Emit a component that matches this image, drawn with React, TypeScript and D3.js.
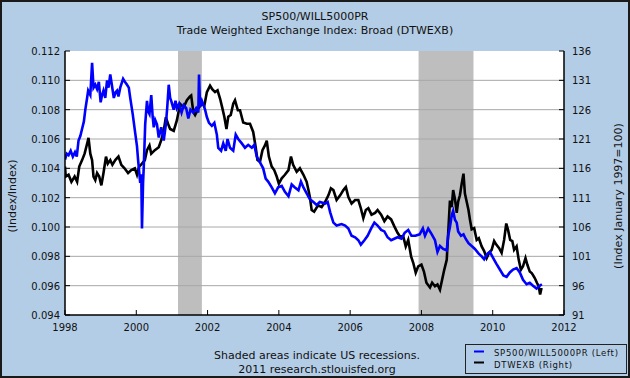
import React from "react";
import * as d3 from "d3";

const title1 = "SP500/WILL5000PR";
const title2 = "Trade Weighted Exchange Index: Broad (DTWEXB)";
const leftLabel = "(Index/Index)";
const rightLabel = "(Index January 1997=100)";
const footer1 = "Shaded areas indicate US recessions.";
const footer2 = "2011 research.stlouisfed.org";
const legendLabels = ["SP500/WILL5000PR (Left)", "DTWEXB (Right)"];

const yearTicks = [1998, 2000, 2002, 2004, 2006, 2008, 2010, 2012];
const leftTicks = [0.094, 0.096, 0.098, 0.1, 0.102, 0.104, 0.106, 0.108, 0.11, 0.112];
const rightTicks = [91, 96, 101, 106, 111, 116, 121, 126, 131, 136];
const recessions: [number, number][] = [
  [2001.17, 2001.84],
  [2007.92, 2009.46],
];

const spDates = [
  1998.0, 1998.05, 1998.1, 1998.16, 1998.22, 1998.28, 1998.33, 1998.38, 1998.43, 1998.48,
  1998.53, 1998.57, 1998.62, 1998.65, 1998.71, 1998.76, 1998.8, 1998.85, 1998.9, 1998.95,
  1999.0, 1999.04, 1999.08, 1999.13, 1999.18, 1999.22, 1999.27, 1999.32, 1999.37, 1999.42,
  1999.46, 1999.5, 1999.55, 1999.63, 1999.68, 1999.74, 1999.79, 1999.83, 1999.9, 1999.97,
  2000.02, 2000.05, 2000.11, 2000.14, 2000.16, 2000.19, 2000.21, 2000.25, 2000.3, 2000.33,
  2000.37, 2000.42, 2000.46, 2000.49, 2000.53, 2000.58, 2000.63, 2000.7, 2000.77, 2000.83,
  2000.87, 2000.91, 2000.95, 2000.98, 2001.05, 2001.1, 2001.14, 2001.2, 2001.27, 2001.33,
  2001.4, 2001.46, 2001.52, 2001.6, 2001.68, 2001.74, 2001.76, 2001.79, 2001.84, 2001.93,
  2001.98, 2002.04, 2002.12, 2002.19, 2002.26, 2002.3, 2002.38, 2002.44, 2002.51, 2002.56,
  2002.63, 2002.72, 2002.79, 2002.86, 2002.96, 2003.05, 2003.14, 2003.24, 2003.31, 2003.38,
  2003.47, 2003.56, 2003.63, 2003.7, 2003.8, 2003.89, 2003.98, 2004.08, 2004.17, 2004.27,
  2004.36, 2004.45, 2004.55, 2004.62, 2004.69, 2004.78, 2004.87, 2004.97, 2005.06, 2005.15,
  2005.3, 2005.37, 2005.44, 2005.53, 2005.62, 2005.76, 2005.86, 2005.95, 2006.04, 2006.14,
  2006.23, 2006.3, 2006.4, 2006.49, 2006.59, 2006.68, 2006.77, 2006.87, 2006.96, 2007.05,
  2007.15, 2007.24, 2007.33, 2007.44, 2007.53, 2007.63, 2007.72, 2007.83, 2007.95, 2008.04,
  2008.1, 2008.19, 2008.29, 2008.38, 2008.45, 2008.52, 2008.61, 2008.71, 2008.75, 2008.8,
  2008.85, 2008.89, 2008.94, 2008.99, 2009.03, 2009.11, 2009.18, 2009.24, 2009.32, 2009.41,
  2009.5, 2009.6, 2009.69, 2009.76, 2009.86, 2009.92, 2010.01, 2010.1, 2010.2, 2010.3,
  2010.39, 2010.48, 2010.57, 2010.67, 2010.76, 2010.85, 2010.95, 2011.04, 2011.13, 2011.23,
  2011.32, 2011.38,
];
const spValues = [
  0.1046, 0.105, 0.1049, 0.1052, 0.1048, 0.1051, 0.1048, 0.1059, 0.1062, 0.1067,
  0.1072, 0.108, 0.1088, 0.1093, 0.109, 0.1112, 0.1095, 0.1097, 0.1094, 0.1099,
  0.1085, 0.109, 0.1093, 0.1088, 0.11, 0.1095, 0.1104, 0.1096, 0.1088, 0.1092,
  0.1093, 0.1089, 0.1095, 0.1101, 0.1099, 0.1097, 0.1095, 0.1088, 0.1077, 0.1064,
  0.1055, 0.1046, 0.103, 0.1036, 0.0999, 0.103, 0.1041, 0.107, 0.1086, 0.1079,
  0.1077, 0.109, 0.1075, 0.1068, 0.1073, 0.107, 0.1061, 0.1068, 0.1059, 0.107,
  0.1082, 0.1097, 0.1088, 0.1086, 0.108, 0.1086, 0.1081, 0.1084, 0.1078, 0.1083,
  0.1081, 0.1074, 0.108, 0.1078, 0.1081, 0.1078, 0.1104, 0.1082, 0.1086, 0.108,
  0.1075, 0.1071, 0.1069, 0.1071, 0.1063, 0.1054, 0.1052, 0.1057, 0.1052, 0.106,
  0.1054, 0.1052, 0.1063, 0.106, 0.1057, 0.1054, 0.1056, 0.1054, 0.1056, 0.1048,
  0.1044, 0.104, 0.1033, 0.1031, 0.1027, 0.1023, 0.1027, 0.1028, 0.1024, 0.1021,
  0.1029, 0.1027, 0.1025, 0.1031, 0.1027, 0.1023, 0.1019, 0.1017, 0.1015, 0.1017,
  0.1016, 0.1017, 0.101, 0.1003, 0.1001, 0.1002, 0.1001, 0.0999, 0.0994, 0.0993,
  0.0991, 0.0988, 0.0991, 0.0994, 0.0999, 0.1003, 0.1001, 0.0998, 0.0997, 0.0993,
  0.0991, 0.0992, 0.0993, 0.0992, 0.0996, 0.0998, 0.0994, 0.0994, 0.0995, 0.0999,
  0.0994, 0.0999, 0.0995, 0.0991, 0.0983, 0.0987, 0.0985, 0.0984, 0.0994, 0.1,
  0.1008, 0.1011, 0.1005, 0.1003, 0.0997, 0.0994, 0.0995, 0.0992, 0.0989, 0.0987,
  0.0985, 0.0982, 0.098, 0.0978, 0.0982, 0.0983, 0.0979, 0.0975, 0.0971, 0.0967,
  0.0966, 0.0969, 0.0971, 0.0972, 0.0969, 0.0964, 0.0961, 0.0962, 0.096, 0.0958,
  0.096, 0.0961,
];

const dxDates = [
  1998.0, 1998.02, 1998.1, 1998.18, 1998.27, 1998.34, 1998.4, 1998.48, 1998.55, 1998.62,
  1998.66, 1998.71, 1998.76, 1998.8, 1998.85, 1998.9, 1998.96, 1999.02, 1999.08, 1999.15,
  1999.2, 1999.27, 1999.33, 1999.41, 1999.5, 1999.58, 1999.67, 1999.77, 1999.86, 1999.96,
  2000.02, 2000.08, 2000.16, 2000.24, 2000.3, 2000.37, 2000.42, 2000.52, 2000.63, 2000.7,
  2000.77, 2000.83, 2000.89, 2000.95, 2001.05, 2001.14, 2001.23, 2001.33, 2001.42, 2001.5,
  2001.54, 2001.6, 2001.65, 2001.74, 2001.84, 2001.91, 2001.98, 2002.07, 2002.13, 2002.21,
  2002.28, 2002.35, 2002.41, 2002.47, 2002.53, 2002.58, 2002.65, 2002.72, 2002.77, 2002.85,
  2002.91, 2003.0, 2003.1, 2003.19, 2003.28, 2003.35, 2003.4, 2003.47, 2003.54, 2003.61,
  2003.66, 2003.72, 2003.8, 2003.87, 2003.94, 2004.0, 2004.08, 2004.17, 2004.27, 2004.34,
  2004.4, 2004.5, 2004.59, 2004.69, 2004.78, 2004.83, 2004.87, 2004.92, 2004.99, 2005.1,
  2005.2, 2005.3, 2005.39, 2005.46, 2005.53, 2005.62, 2005.72, 2005.81, 2005.88, 2005.95,
  2006.04, 2006.14, 2006.23, 2006.3, 2006.37, 2006.44, 2006.51, 2006.6, 2006.7, 2006.77,
  2006.87, 2006.96, 2007.05, 2007.15, 2007.24, 2007.33, 2007.4, 2007.49, 2007.56, 2007.63,
  2007.71, 2007.77, 2007.84, 2007.91, 2008.0, 2008.07, 2008.14, 2008.24, 2008.3, 2008.38,
  2008.45, 2008.52, 2008.58, 2008.64, 2008.71, 2008.75, 2008.8, 2008.85, 2008.89, 2008.94,
  2008.99, 2009.03, 2009.08, 2009.13, 2009.18, 2009.22, 2009.27, 2009.32, 2009.36, 2009.41,
  2009.48, 2009.55, 2009.61, 2009.69, 2009.76, 2009.83, 2009.9, 2009.97, 2010.04, 2010.1,
  2010.18, 2010.25, 2010.32, 2010.38, 2010.43, 2010.49, 2010.55, 2010.6, 2010.67, 2010.73,
  2010.79, 2010.85, 2010.92, 2010.97, 2011.04, 2011.1, 2011.18, 2011.24, 2011.29, 2011.33,
  2011.37,
];
const dxValues = [
  116.3, 114.6, 114.9, 113.7, 114.6, 113.7, 116.3, 117.4, 118.5, 120.2,
  121.2, 118.5, 117.4, 114.6, 114.0, 115.2, 114.6, 113.1, 115.2, 118.0,
  116.8, 117.4, 116.6, 117.4, 118.0, 116.6, 116.0, 115.2, 115.7, 116.0,
  114.9, 116.3, 116.8, 117.4, 119.1, 119.9, 118.5, 119.1, 119.6, 120.8,
  122.4, 124.7, 123.6, 122.7, 122.4, 124.2, 127.0, 126.4, 127.6, 128.2,
  128.4, 125.6, 125.1, 126.2, 127.0, 126.7, 129.0, 130.1, 129.5, 129.0,
  129.3, 127.9, 126.4, 124.8, 122.7, 124.8, 125.1, 127.0, 127.6, 125.9,
  125.9, 123.8, 123.6, 123.6, 122.2, 119.6, 117.4, 117.1, 119.1, 119.9,
  120.7, 118.0, 116.3, 115.7, 114.6, 113.4, 114.3, 114.9, 115.7, 118.0,
  116.6, 115.4, 116.0, 114.9, 113.7, 112.3, 111.1, 108.9, 108.6, 109.7,
  109.4, 110.3, 111.4, 112.6, 112.3, 110.6, 111.4, 112.3, 112.8, 111.1,
  110.0, 110.6, 110.6, 109.2, 107.5, 108.9, 109.2, 108.1, 108.4, 108.9,
  108.1, 107.0, 107.8, 107.3, 106.1, 105.0, 104.4, 104.4, 102.7, 103.8,
  101.0, 99.9, 98.2, 99.3, 99.6, 98.4, 96.5, 95.7, 96.5, 95.9,
  96.2, 95.3, 97.0, 98.7, 100.4, 104.9, 110.5, 109.4, 112.3, 110.8,
  108.4, 110.3, 111.4, 113.4, 115.1, 111.7, 110.3, 108.9, 107.3, 105.6,
  105.8, 103.8, 104.1, 102.7, 101.9, 100.7, 101.6, 102.1, 103.6, 103.0,
  102.4, 101.6, 103.8, 106.6, 105.5, 103.8, 103.6, 102.1, 102.7, 100.4,
  98.7, 99.3, 100.7, 99.6, 98.4, 98.1, 97.3, 96.5, 95.9, 94.5,
  95.6,
];

const W = 630;
const H = 378;
const plot = { left: 65, right: 564, top: 51, bottom: 315 };
const BG = "#B4CDE6";
const FONT = "'DejaVu Sans', Verdana, sans-serif";

export default function App() {
  const x = d3.scaleLinear().domain([1998, 2012]).range([plot.left, plot.right]);
  const yL = d3.scaleLinear().domain([0.094, 0.112]).range([plot.bottom, plot.top]);
  const yR = d3.scaleLinear().domain([91, 136]).range([plot.bottom, plot.top]);

  const spLine = d3
    .line<number>()
    .x((_, i) => x(spDates[i]))
    .y((d) => yL(d));
  const dxLine = d3
    .line<number>()
    .x((_, i) => x(dxDates[i]))
    .y((d) => yR(d));

  const midY = 196;

  return (
    <svg
      width={W}
      height={H}
      style={{ position: "absolute", left: 0, top: 0 }}
      fontFamily={FONT}
    >
      <rect x={0} y={0} width={W} height={H} fill={BG} />
      <rect x={1} y={1} width={W - 2} height={H - 2} fill="none" stroke="#1a1a1a" strokeWidth={2} />

      <text x={W / 2} y={20} textAnchor="middle" fontSize={11} fill="#111">{title1}</text>
      <text x={W / 2} y={34} textAnchor="middle" fontSize={11} fill="#111">{title2}</text>

      <rect
        x={plot.left}
        y={plot.top}
        width={plot.right - plot.left}
        height={plot.bottom - plot.top}
        fill="#fff"
      />
      {recessions.map(([a, b], i) => (
        <rect key={i} x={x(a)} y={plot.top} width={x(b) - x(a)} height={plot.bottom - plot.top} fill="#BEBEBE" />
      ))}
      {leftTicks.slice(1, -1).map((t) => (
        <line key={t} x1={plot.left} x2={plot.right} y1={yL(t)} y2={yL(t)} stroke="#A8A8A8" strokeWidth={1} />
      ))}

      <clipPath id="clip">
        <rect x={plot.left} y={plot.top} width={plot.right - plot.left} height={plot.bottom - plot.top} />
      </clipPath>
      <g clipPath="url(#clip)">
        <path d={dxLine(dxValues) || ""} fill="none" stroke="#000" strokeWidth={2.6} strokeLinejoin="miter" />
        <path d={spLine(spValues) || ""} fill="none" stroke="#0000FF" strokeWidth={2.6} strokeLinejoin="miter" />
      </g>

      {/* axes */}
      <line x1={plot.left} x2={plot.left} y1={plot.top} y2={plot.bottom} stroke="#000" strokeWidth={1.5} />
      <line x1={plot.right} x2={plot.right} y1={plot.top} y2={plot.bottom} stroke="#000" strokeWidth={1.5} />
      <line x1={plot.left} x2={plot.right} y1={plot.bottom} y2={plot.bottom} stroke="#000" strokeWidth={1.5} />

      {leftTicks.map((t) => (
        <g key={"l" + t}>
          <line x1={plot.left} x2={plot.left + 5} y1={yL(t)} y2={yL(t)} stroke="#000" />
          <text x={plot.left - 5} y={yL(t) + 4} textAnchor="end" fontSize={10} fill="#111">
            {d3.format(".3f")(t)}
          </text>
        </g>
      ))}
      {rightTicks.map((t) => (
        <g key={"r" + t}>
          <line x1={plot.right - 5} x2={plot.right} y1={yR(t)} y2={yR(t)} stroke="#000" />
          <text x={plot.right + 8} y={yR(t) + 4} textAnchor="start" fontSize={10} fill="#111">
            {t}
          </text>
        </g>
      ))}
      {yearTicks.map((t) => (
        <g key={"x" + t}>
          <line x1={x(t)} x2={x(t)} y1={plot.bottom} y2={plot.bottom - 5} stroke="#000" />
          <text x={x(t)} y={331} textAnchor="middle" fontSize={10} fill="#111">
            {t}
          </text>
        </g>
      ))}

      <text transform={`translate(16,${midY}) rotate(-90)`} textAnchor="middle" fontSize={11} fill="#111">
        {leftLabel}
      </text>
      <text transform={`translate(622,${midY}) rotate(-90)`} textAnchor="middle" fontSize={11} fill="#111">
        {rightLabel}
      </text>

      <text x={317} y={359} textAnchor="middle" fontSize={11} fill="#111">{footer1}</text>
      <text x={317} y={373} textAnchor="middle" fontSize={11} fill="#111">{footer2}</text>

      <rect x={465.5} y={344.5} width={161} height={29} fill={BG} stroke="#222" strokeWidth={1} />
      <line x1={474} x2={484} y1={351.5} y2={351.5} stroke="#0000FF" strokeWidth={2} />
      <line x1={474} x2={484} y1={362.5} y2={362.5} stroke="#000" strokeWidth={2} />
      <text x={494} y={356} fontSize={8.5} fill="#111" textLength={124} lengthAdjust="spacing">{legendLabels[0]}</text>
      <text x={494} y={368} fontSize={8.5} fill="#111" textLength={78} lengthAdjust="spacing">{legendLabels[1]}</text>
    </svg>
  );
}
